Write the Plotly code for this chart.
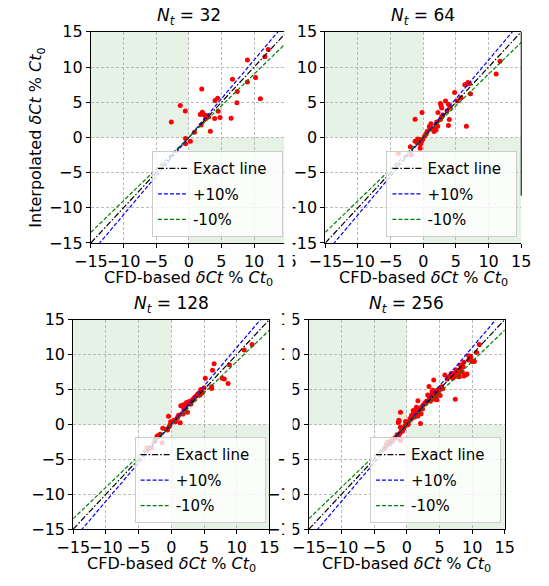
import plotly.graph_objects as go

# ---------------- data ----------------
panel_n = ["32", "64", "128", "256"]

x32 = [12.17, 11.64, 8.97, 10.23, 6.69, 8.97, 1.98, 7.42, 10.96, 4.41, 4.02, 7.37, -1.31, -0.54,
       4.5, 2.08, 1.75, 2.3, 2.69, 3.03, 3.96, 4.78, 6.48, 2.56, -2.68, 1.89, 0.87, 3.3, -0.5, -0.5, 0.24]
y32 = [12.5, 11.47, 11.0, 8.53, 8.26, 7.89, 6.88, 6.52, 5.5, 5.55, 5.23, 4.91, 4.54, 3.77,
       3.73, 3.58, 3.26, 3.26, 3.12, 2.9, 2.69, 2.83, 2.73, 2.64, 2.2, 1.75, 0.74, 0.88, -0.14, -0.91, -0.55]

x64 = [11.75, 11.16, 6.84, 6.64, 6.36, 7.08, 7.23, 4.8, 5.77, 5.2, 3.4, 2.63, 2.73, 3.85, 4.09, 2.82,
       -0.19, 2.24, 3.64, -1.25, 3.99, 3.85, 6.6, 2.63, 2.05, 1.95, 1.46, 1.95, 1.65, 0.58, 0.44, 0.92,
       1.17, -0.87, -0.53, -1.26, -0.29, -0.43, -0.48, -1.98, -1.83, -3.83, -0.92, 1.8, 2.2, 0.2, 1.0,
       2.8, 3.0, -0.1]
y64 = [10.83, 9.0, 7.8, 7.57, 7.48, 7.66, 6.19, 6.38, 5.64, 5.19, 5.19, 4.82, 4.49, 4.72, 4.27, 4.18,
       3.54, 3.54, 3.8, 2.57, 2.53, 1.7, 1.6, 2.53, 2.2, 1.75, 1.15, 1.06, 0.83, 0.83, 0.5, 1.56,
       1.93, -0.22, -0.31, -0.54, -0.58, -0.99, -1.54, -1.32, -2.48, -2.29, -0.77, 1.3, 1.6, 0.15, 1.2,
       2.9, 3.2, -0.3]

x128 = [12.35, 11.15, 6.54, 6.3, 8.87, 7.76, 8.1, 8.68, 5.19, 6.16, 6.16, 4.5, 4.26, 4.75, 3.78, 3.54,
        3.15, 2.8, 2.32, 1.84, 1.45, 2.08, 2.47, 1.6, 1.12, 0.87, 0.39, 1.36, 0.63, -0.44, -0.1, -0.34,
        -0.58, -1.31, -2.18, -1.94, -1.41, -3.72, -3.0, -3.38, 4.0, 3.3, 2.6, 2.2, 1.9, 1.0, 0.5, -0.2,
        -0.8, -1.7, -2.5, 5.0, 4.4, 3.0, 1.8, 2.6]
y128 = [11.44, 10.66, 8.67, 7.75, 8.53, 6.6, 6.5, 5.86, 6.6, 5.4, 5.12, 4.98, 4.52, 4.52, 4.06, 3.83,
        3.37, 3.28, 3.14, 2.81, 2.67, 2.21, 1.75, 1.52, 1.29, 0.83, 0.6, 0.23, 0.37, 1.15, 0.37, -0.33,
        -0.79, -0.56, -1.71, -1.57, -2.63, -3.33, -3.33, -3.47, 4.3, 3.6, 2.9, 2.5, 2.2, 1.1, 0.5, -0.1,
        -0.7, -1.4, -2.3, 5.2, 4.2, 2.9, 1.5, 3.2]

x256 = [11.1, 10.69, 9.47, 10.3, 10.33, 9.21, 8.73, 8.25, 8.49, 8.0, 7.62, 7.28, 7.91, 8.73, 7.04, 6.79,
        4.12, 3.39, 4.85, 4.6, 3.88, 3.64, 4.37, 5.1, 3.54, 4.12, 4.6, 7.42, 1.7, 1.46, 1.94, 0.97,
        1.6, 2.18, 0.73, 1.21, 0.49, 2.09, -0.97, -1.21, -1.31, -0.19, 0.05, -0.44, -0.68, -1.21, -0.97,
        -1.7, -2.18, -2.91, -3.15, -3.39, 5.83, 8.5, 9.0, 8.02, 6.8,
        0.3, 0.6, 0.9, 1.2, 1.5, 1.8, 2.0, 2.3, -0.3, -0.5, -0.8, -1.0, -1.5, -1.8, -2.3, 3.5, 3.8, 4.2,
        4.5, 5.0, 4.8, 5.3, 3.2, 4.0, 6.5, 6.2, 7.8, 8.6, 9.5, 1.0, 1.4, 2.5, 2.8, 3.0, -2.6, -0.1, 0.2,
        1.7, 2.4, 3.6, 4.4, 5.5, 7.1, 7.6, 8.2, 9.8, 10.0, -1.2, -1.0]
y256 = [11.44, 10.29, 9.83, 9.0, 9.04, 7.2, 8.9, 7.98, 7.52, 7.29, 7.06, 6.83, 6.83, 6.92, 6.6, 7.29,
        6.37, 5.44, 4.98, 4.52, 4.75, 4.14, 4.14, 4.14, 3.69, 3.6, 3.51, 3.6, 3.37, 2.44, 2.3, 1.98,
        1.75, 1.52, 1.29, 1.06, 0.83, 0.14, 1.75, 0.6, 0.28, 0.42, -0.05, -0.51, -0.97, -1.48, -2.31,
        -1.94, -2.4, -2.49, -2.86, -3.42, 7.06, 8.21, 7.06, 6.83, 6.83,
        0.4, 0.7, 1.0, 1.4, 1.6, 2.0, 2.3, 2.5, -0.2, -0.6, -0.9, -1.2, -1.5, -1.9, -2.2, 3.9, 4.3, 4.5,
        4.8, 5.0, 4.4, 5.4, 4.2, 4.9, 6.8, 6.5, 7.5, 8.3, 9.2, 1.6, 2.0, 2.8, 3.1, 3.3, -2.8, 0.1, 0.0,
        1.2, 2.2, 3.3, 3.9, 5.1, 7.3, 7.8, 8.5, 9.6, 9.0, 0.5, -0.4]

panel_x = [x32, x64, x128, x256]
panel_y = [y32, y64, y128, y256]

tick_vals = [-15, -10, -5, 0, 5, 10, 15]
tick_text = ["\u221215", "\u221210", "\u22125", "0", "5", "10", "15"]

line_names = ["Exact line", "+10%", "-10%"]
line_factors = [1.0, 1.1, 0.9]
line_x = [-15, 15]
line_colors = ["black", "blue", "green"]
line_dashes = ["6px,2px,1.5px,2px", "4px,2px", "4px,2px"]

# ---------------- layout geometry (pixels) ----------------
W, H = 549, 586
FONT = "DejaVu Sans"
# (left, right, top, bottom) of each plot area
boxes = [(77.7, 283.7, 23.65, 241.75), (324.3, 530.3, 23.65, 241.75),
         (59.1, 265.5, 321.0, 537.6), (307.0, 513.0, 321.0, 537.6)]


def px(v):
    return v / W


def py(v):
    return 1 - v / H


fig = go.Figure()
layout = dict(width=W, height=H, margin=dict(l=0, r=0, t=0, b=0),
              paper_bgcolor="white", plot_bgcolor="white",
              font=dict(family=FONT, size=16, color="black"),
              shapes=[], annotations=[])

for i in range(4):
    s = "" if i == 0 else str(i + 1)
    xa, ya = "x" + s, "y" + s
    L, R, T, B = boxes[i]
    # scatter points
    fig.add_trace(go.Scatter(x=panel_x[i], y=panel_y[i], mode="markers",
                             marker=dict(color="red", size=5, line=dict(width=0)),
                             xaxis=xa, yaxis=ya, showlegend=False))
    # reference lines
    for k in range(3):
        fig.add_trace(go.Scatter(x=line_x, y=[line_factors[k] * v for v in line_x],
                                 mode="lines", name=line_names[k] + "\u00a0\u00a0",
                                 line=dict(color=line_colors[k], width=1.2, dash=line_dashes[k]),
                                 xaxis=xa, yaxis=ya, legend="legend" + s,
                                 legendgroup="g%d_%d" % (i, k)))
    axis_common = dict(range=[-15, 15], tickmode="array", tickvals=tick_vals, ticktext=tick_text,
                       ticks="outside", ticklen=4, tickcolor="black", tickwidth=1,
                       showline=True, linecolor="black", linewidth=1,
                       showgrid=True, gridcolor="rgba(175,175,175,0.85)", gridwidth=1,
                       griddash="3px,2px", zeroline=False, tickangle=0,
                       tickfont=dict(family=FONT, size=16, color="black"))
    layout["xaxis" + s] = dict(axis_common, domain=[px(L), px(R)], anchor=ya, mirror=True)
    layout["yaxis" + s] = dict(axis_common, domain=[py(B), py(T)], anchor=xa,
                               mirror=(i != 1))
    # green shaded quadrants
    for (x0, x1, y0, y1) in [(-15, 0, 0, 15), (0, 15, -15, 0)]:
        layout["shapes"].append(dict(type="rect", xref=xa, yref=ya, x0=x0, x1=x1, y0=y0, y1=y1,
                                     fillcolor="rgba(0,128,0,0.1)", line=dict(width=0),
                                     layer="below"))
    # legend
    layout["legend" + s] = dict(x=px(R - 4), y=py(B - 6), xanchor="right", yanchor="bottom",
                                xref="paper", yref="paper",
                                bgcolor="rgba(255,255,255,0.8)", bordercolor="#cccccc",
                                borderwidth=1, tracegroupgap=3,
                                font=dict(family=FONT, size=15, color="black"))
    # title
    layout["annotations"].append(dict(text="<i>N</i><sub><i>t</i></sub> = " + panel_n[i],
                                      x=px((L + R) / 2), y=py(T - 2), xref="paper", yref="paper",
                                      xanchor="center", yanchor="bottom", showarrow=False,
                                      font=dict(family=FONT, size=17, color="black")))
    # x label
    layout["annotations"].append(dict(text="CFD-based <i>δCt</i> % <i>Ct</i><sub>0</sub>",
                                      x=px((L + R) / 2), y=py(B + 24), xref="paper", yref="paper",
                                      xanchor="center", yanchor="top", showarrow=False,
                                      font=dict(family=FONT, size=16, color="black")))

# y label (top-left only)
layout["annotations"].append(dict(text="Interpolated <i>δCt</i> % <i>Ct</i><sub>0</sub>",
                                  x=px(21), y=py(133), xref="paper", yref="paper",
                                  xanchor="center", yanchor="middle", textangle=-90,
                                  showarrow=False, font=dict(family=FONT, size=16, color="black")))

# partial right spine of the top-right panel
layout["shapes"].append(dict(type="line", xref="x2 domain", yref="y2 domain", x0=1, x1=1,
                             y0=(241.75 - 193) / (241.75 - 23.65), y1=1,
                             line=dict(color="black", width=1), layer="above"))
# gap between the cropped panels
layout["shapes"].append(dict(type="rect", xref="paper", yref="paper", x0=px(281), x1=px(290),
                             y0=0, y1=1, fillcolor="white", line=dict(width=0), layer="above"))

fig.update_layout(**layout)
fig.write_html("out.html")
